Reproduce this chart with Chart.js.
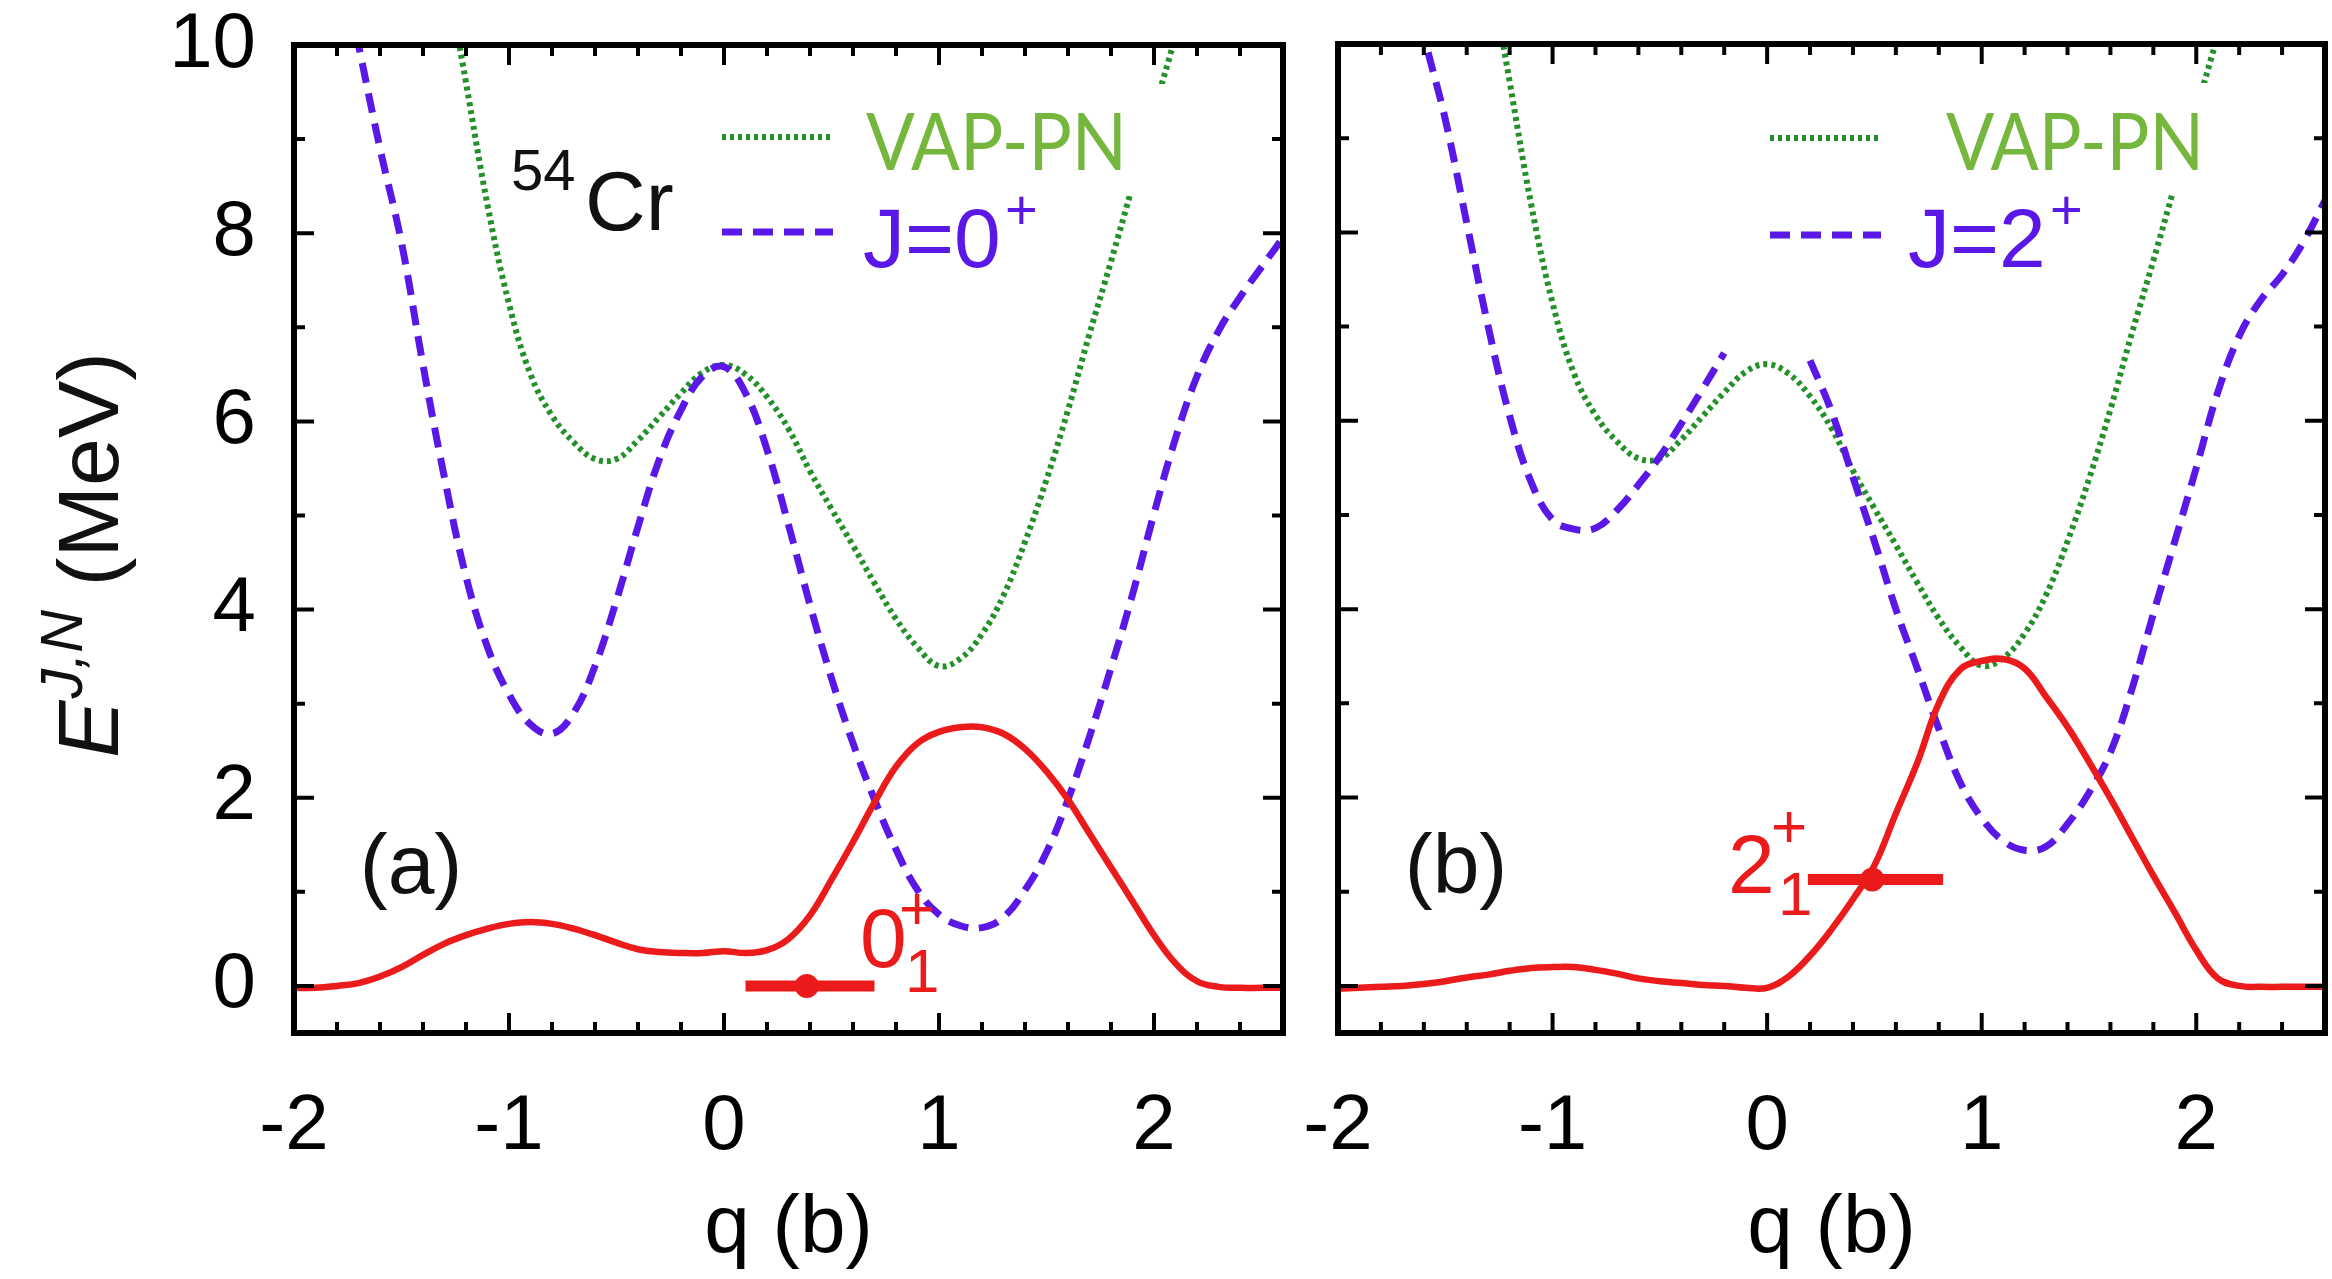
<!DOCTYPE html>
<html>
<head>
<meta charset="utf-8">
<title>54Cr VAP-PN energy curves</title>
<script src="https://cdn.jsdelivr.net/npm/chart.js@4.4.1/dist/chart.umd.min.js"></script>
<style>
  html, body { margin: 0; padding: 0; background: #fff; }
  #wrap { position: relative; width: 2332px; height: 1279px; overflow: hidden; background: #fff; }
  #panelA { position: absolute; left: 0; top: 0; width: 1310px; height: 1279px; }
  #panelB { position: absolute; left: 1280px; top: 0; width: 1052px; height: 1279px; }
</style>
</head>
<body>
<div id="wrap">
  <div id="panelA"><canvas id="chartA"></canvas></div>
  <div id="panelB"><canvas id="chartB"></canvas></div>
</div>
<script>
// deformation grid q (b)
const qGrid = [-2.0, -1.9, -1.8, -1.7, -1.6, -1.5, -1.4, -1.3, -1.2, -1.1, -1.0, -0.9, -0.8, -0.7, -0.6, -0.5,
  -0.4, -0.3, -0.2, -0.1, 0.0, 0.1, 0.2, 0.3, 0.4, 0.5, 0.6, 0.7, 0.8, 0.9, 1.0, 1.1, 1.2, 1.3, 1.4, 1.5,
  1.6, 1.7, 1.8, 1.9, 2.0, 2.1, 2.2, 2.3, 2.4, 2.5, 2.6];

// VAP-PN energy surface (same in both panels)
const vapPN = [null, null, null, null, null, null, null, 10.9, 9.6, 8.3, 7.25, 6.5, 6.06, 5.78, 5.6, 5.6,
  5.8, 6.05, 6.3, 6.52, 6.6, 6.5, 6.26, 5.92, 5.47, 5.07, 4.68, 4.28, 3.9, 3.6, 3.4, 3.48, 3.74, 4.15, 4.72, 5.38,
  6.12, 6.93, 7.7, 8.5, 9.3, 10.1, 11.0, null, null, null, null];

// angular-momentum projected surfaces
const projJ0 = [null, null, 11.1, 10.0, 8.9, 7.9, 6.6, 5.4, 4.35, 3.6, 3.1, 2.78, 2.68, 2.9, 3.4, 4.1,
  4.88, 5.6, 6.12, 6.48, 6.58, 6.3, 5.7, 4.9, 4.05, 3.27, 2.58, 1.98, 1.45, 1.02, 0.76, 0.64, 0.62, 0.73, 1.02, 1.42,
  1.98, 2.65, 3.38, 4.16, 5.02, 5.82, 6.48, 6.96, 7.32, 7.64, 7.95];
const projJ2 = [null, null, null, 11.2, 10.1, 9.2, 8.1, 7.0, 6.05, 5.35, 4.95, 4.85, 4.86, 5.05, 5.32, 5.62,
  5.97, 6.34, 6.72, null, null, null, 6.64, 6.1, 5.4, 4.72, 4.0, 3.37, 2.73, 2.16, 1.78, 1.54, 1.44, 1.48, 1.72, 2.05,
  2.48, 3.15, 3.95, 4.72, 5.5, 6.3, 6.9, 7.28, 7.55, 7.9, 8.34];

// collective wave functions (red)
const waveA = [-0.02, -0.02, 0.0, 0.03, 0.1, 0.2, 0.33, 0.45, 0.54, 0.61, 0.66, 0.68, 0.66, 0.61, 0.54, 0.46,
  0.39, 0.36, 0.35, 0.35, 0.37, 0.35, 0.38, 0.5, 0.75, 1.13, 1.53, 1.95, 2.33, 2.58, 2.7, 2.75, 2.75, 2.68, 2.52, 2.28,
  1.98, 1.62, 1.26, 0.9, 0.54, 0.24, 0.05, -0.01, -0.02, -0.02, -0.02];
const waveB = [-0.03, -0.02, -0.01, 0.0, 0.02, 0.05, 0.09, 0.12, 0.16, 0.19, 0.2, 0.2, 0.17, 0.13, 0.08, 0.05,
  0.03, 0.01, 0.0, -0.02, -0.02, 0.1, 0.32, 0.6, 0.92, 1.28, 1.83, 2.37, 3.0, 3.36, 3.45, 3.47, 3.37, 3.07, 2.75, 2.38,
  1.99, 1.58, 1.17, 0.78, 0.38, 0.08, 0.0, -0.01, -0.01, -0.01, -0.01];

// lowest states: q spread [left, mean, right] and energy
const stateA_q = [0.10, 0.385, 0.70];
const stateA_E = 0.0;
const stateB_q = [0.19, 0.49, 0.82];
const stateB_E = 1.13;

const xLabels = [-2, -1, 0, 1, 2];
const yLabels = [0, 2, 4, 6, 8, 10];

const FONT = '"Liberation Sans", Arial, Helvetica, sans-serif';
const RED = '#ec1b1b';
const PURPLE = '#5a18e6';
const GREEN = '#23902a';
const LABEL_GREEN = '#74b73c';
const DOTS = [4, 4];
const DASHES = [20, 11];

function curve(values, color, width, dash) {
  return {
    data: qGrid.map((q, i) => ({ x: q, y: values[i] })),
    borderColor: color,
    borderWidth: width,
    borderDash: dash,
    pointRadius: 0,
    tension: 0.4,
    fill: false
  };
}

function stateMark(qs, e) {
  return {
    data: qs.map(q => ({ x: q, y: e })),
    borderColor: RED,
    backgroundColor: RED,
    borderWidth: 11,
    borderCapStyle: 'butt',
    pointRadius: [0, 12, 0],
    pointBorderWidth: 0,
    tension: 0
  };
}

// text with alphabetic baseline, optional italic and fitted width
function put(ctx, s, x, y, size, color, opt) {
  opt = opt || {};
  ctx.save();
  ctx.font = (opt.italic ? 'italic ' : '') + size + 'px ' + (opt.family || FONT);
  ctx.fillStyle = color;
  ctx.textAlign = opt.align || 'left';
  ctx.textBaseline = opt.baseline || 'alphabetic';
  if (opt.width) {
    const w = ctx.measureText(s).width;
    ctx.translate(x, y);
    ctx.scale(opt.width / w, 1);
    ctx.fillText(s, 0, 0);
  } else {
    ctx.fillText(s, x, y);
  }
  ctx.restore();
}

function sample(ctx, x0, x1, y, color, width, dash) {
  ctx.save();
  ctx.strokeStyle = color;
  ctx.lineWidth = width;
  ctx.setLineDash(dash);
  ctx.beginPath();
  ctx.moveTo(x0, y);
  ctx.lineTo(x1, y);
  ctx.stroke();
  ctx.restore();
}

function whiteBox(ctx, x, y, w, h) {
  ctx.save();
  ctx.fillStyle = '#fff';
  ctx.beginPath();
  ctx.roundRect(x, y, w, h, 45);
  ctx.fill();
  ctx.restore();
}

// gnuplot style frame with inward ticks on all four sides
const frameTicks = {
  id: 'frameTicks',
  afterDatasetsDraw(chart) {
    const { ctx, chartArea: a, scales: { x, y } } = chart;
    ctx.save();
    ctx.strokeStyle = '#000';
    ctx.lineWidth = 4;
    ctx.beginPath();
    for (let v = -2; v <= 2.61; v += 0.2) {
      const major = Math.abs(v - Math.round(v)) < 1e-6;
      const len = major ? 20 : 11;
      const px = x.getPixelForValue(v);
      ctx.moveTo(px, a.bottom); ctx.lineTo(px, a.bottom - len);
      ctx.moveTo(px, a.top); ctx.lineTo(px, a.top + len);
    }
    for (let v = 0; v <= 10; v += 1) {
      const len = v % 2 === 0 ? 20 : 11;
      const py = y.getPixelForValue(v);
      ctx.moveTo(a.left, py); ctx.lineTo(a.left + len, py);
      ctx.moveTo(a.right, py); ctx.lineTo(a.right - len, py);
    }
    ctx.stroke();
    ctx.lineWidth = 6;
    ctx.strokeRect(a.left, a.top, a.right - a.left, a.bottom - a.top);
    ctx.restore();
  }
};

const notesA = {
  id: 'notesA',
  afterDraw(chart) {
    const ctx = chart.ctx;
    put(ctx, '54', 511, 190, 58, '#111');
    put(ctx, 'Cr', 585, 230, 84, '#111');
    sample(ctx, 722, 833, 137, GREEN, 6, DOTS);
    whiteBox(ctx, 851, 84, 390, 112);
    put(ctx, 'VAP-PN', 866, 170, 80, LABEL_GREEN, { family: 'Lato, "Open Sans", sans-serif', width: 261 });
    sample(ctx, 722, 833, 232, PURPLE, 7, DASHES);
    put(ctx, 'J=0', 863, 267, 84, PURPLE);
    put(ctx, '+', 1005, 229, 56, PURPLE);
    put(ctx, '(a)', 411, 870, 84, '#111', { align: 'center', baseline: 'middle' });
    put(ctx, '0', 860, 967, 84, RED);
    put(ctx, '1', 905, 992, 62, RED);
    put(ctx, '+', 899, 929, 62, RED);

    // rotated y title: E^{J,N} (MeV)
    ctx.save();
    ctx.translate(88, 556);
    ctx.rotate(-Math.PI / 2);
    ctx.textBaseline = 'alphabetic';
    ctx.font = 'italic 86px ' + FONT;
    const wE = ctx.measureText('E').width;
    ctx.font = 'italic 59px ' + FONT;
    const wJ = ctx.measureText('J,N').width;
    ctx.font = '86px ' + FONT;
    const wM = ctx.measureText(' (MeV)').width;
    let sx = -(wE + wJ + wM) / 2;
    const base = 30;
    ctx.fillStyle = '#111';
    ctx.font = 'italic 86px ' + FONT;
    ctx.fillText('E', sx, base);
    sx += wE + 2;
    ctx.font = 'italic 59px ' + FONT;
    ctx.fillText('J,N', sx, base - 36);
    sx += wJ;
    ctx.font = '86px ' + FONT;
    ctx.fillText(' (MeV)', sx, base);
    ctx.restore();
  }
};

const OFF_B = 1280;
const notesB = {
  id: 'notesB',
  afterDraw(chart) {
    const ctx = chart.ctx;
    ctx.save();
    ctx.translate(-OFF_B, 0);
    sample(ctx, 1770, 1881, 138, GREEN, 6, DOTS);
    whiteBox(ctx, 1896, 83, 417, 110);
    put(ctx, 'VAP-PN', 1946, 170, 80, LABEL_GREEN, { family: 'Lato, "Open Sans", sans-serif', width: 258 });
    sample(ctx, 1770, 1881, 235, PURPLE, 7, DASHES);
    put(ctx, 'J=2', 1908, 267, 84, PURPLE);
    put(ctx, '+', 2050, 229, 56, PURPLE);
    put(ctx, '(b)', 1456, 870, 84, '#111', { align: 'center', baseline: 'middle' });
    put(ctx, '2', 1728, 893, 84, RED);
    put(ctx, '1', 1778, 915, 62, RED);
    put(ctx, '+', 1771, 847, 62, RED);
    ctx.restore();
  }
};

function panelOptions(yWidth, showY, pad) {
  return {
    responsive: true,
    maintainAspectRatio: false,
    animation: false,
    layout: { padding: pad },
    plugins: { legend: { display: false }, tooltip: { enabled: false } },
    scales: {
      x: {
        type: 'linear',
        min: -2,
        max: 2.6,
        afterBuildTicks: s => { s.ticks = xLabels.map(v => ({ value: v })); },
        // fixed axis band; edge labels may overhang the plot
        afterFit: s => { s.height = 246; s.paddingLeft = 0; s.paddingRight = 0; },
        grid: { display: false },
        border: { display: false },
        ticks: { color: '#000', font: { family: FONT, size: 78 }, padding: 40, maxRotation: 0, autoSkip: false },
        title: { display: true, text: 'q (b)', color: '#000', font: { family: FONT, size: 82 }, padding: 0 }
      },
      y: {
        type: 'linear',
        min: -0.5,
        max: 10,
        afterBuildTicks: s => { s.ticks = yLabels.map(v => ({ value: v })); },
        afterFit: s => { s.width = yWidth; s.paddingTop = 0; s.paddingBottom = 0; },
        grid: { display: false },
        border: { display: false },
        ticks: { display: showY, color: '#000', font: { family: FONT, size: 78 }, padding: 30 }
      }
    }
  };
}

new Chart(document.getElementById('chartA'), {
  type: 'line',
  data: {
    datasets: [
      stateMark(stateA_q, stateA_E),
      curve(waveA, RED, 6.5, []),
      curve(projJ0, PURPLE, 7, DASHES),
      curve(vapPN, GREEN, 6, DOTS)
    ]
  },
  options: panelOptions(294, true, { top: 45, right: 27, bottom: 0, left: 0 }),
  plugins: [frameTicks, notesA]
});

new Chart(document.getElementById('chartB'), {
  type: 'line',
  data: {
    datasets: [
      stateMark(stateB_q, stateB_E),
      curve(waveB, RED, 6.5, []),
      curve(projJ2, PURPLE, 7, DASHES),
      curve(vapPN, GREEN, 6, DOTS)
    ]
  },
  options: panelOptions(1338 - OFF_B, false, { top: 44, right: 7, bottom: 0, left: 0 }),
  plugins: [frameTicks, notesB]
});
</script>
</body>
</html>
